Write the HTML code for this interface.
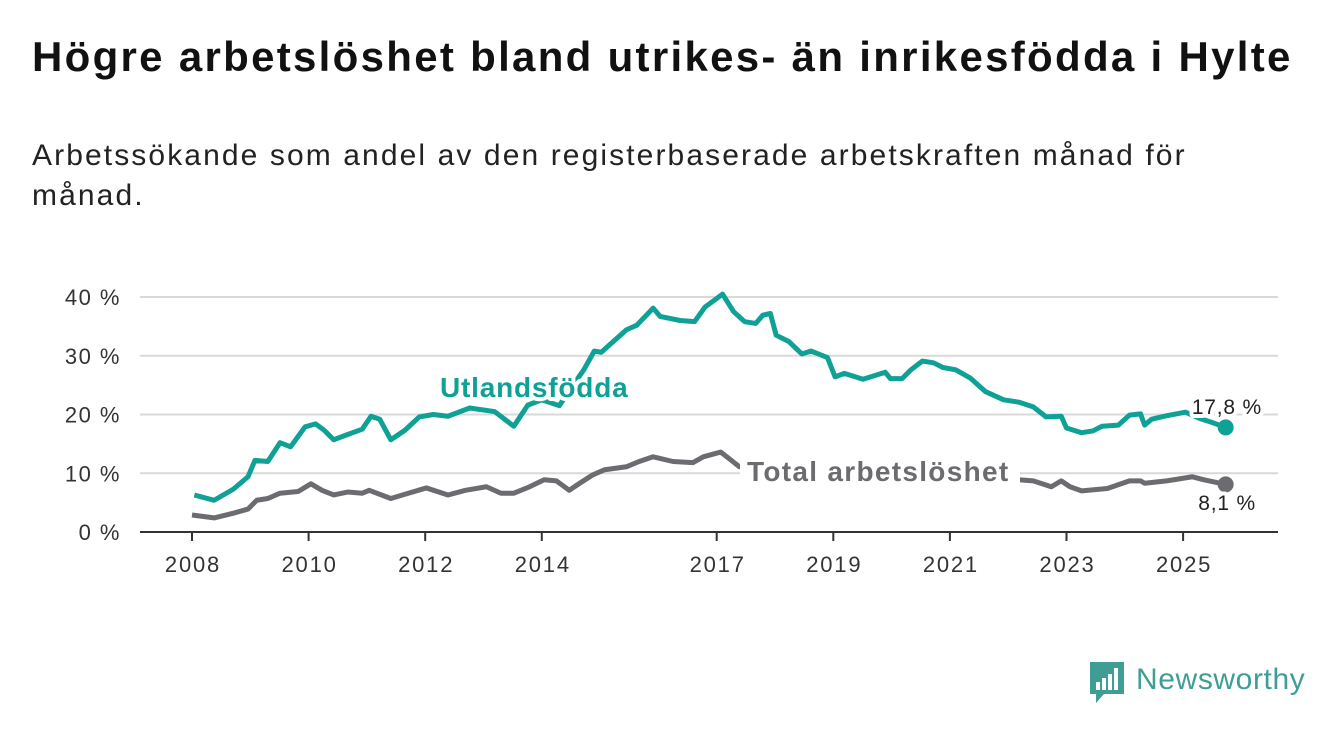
<!DOCTYPE html>
<html><head><meta charset="utf-8"><style>
body{margin:0;background:#fff;width:1340px;height:734px;overflow:hidden;font-family:"Liberation Sans",sans-serif}
#title{position:absolute;left:32px;top:33px;font-size:42px;font-weight:bold;color:#111;margin:0;letter-spacing:2.3px;white-space:nowrap}
#sub{position:absolute;left:32px;top:136px;font-size:30px;line-height:40px;color:#222;width:1250px;letter-spacing:2.1px}
svg{position:absolute;left:0;top:0}
</style></head><body>
<h1 id="title">Högre arbetslöshet bland utrikes- än inrikesfödda i Hylte</h1>
<div id="sub">Arbetssökande som andel av den registerbaserade arbetskraften månad för<br>månad.</div>
<svg id="chart" width="1340" height="734"></svg>
<script>
const foreignDates=[2008.04,2008.38,2008.71,2008.96,2009.08,2009.3,2009.51,2009.69,2009.94,2010.12,2010.27,2010.43,2010.67,2010.92,2011.07,2011.22,2011.41,2011.65,2011.9,2012.14,2012.39,2012.76,2013.19,2013.52,2013.76,2014.0,2014.3,2014.5,2014.72,2014.9,2015.02,2015.45,2015.63,2015.91,2016.03,2016.37,2016.62,2016.8,2016.98,2017.1,2017.29,2017.48,2017.67,2017.79,2017.92,2018.02,2018.24,2018.46,2018.62,2018.9,2019.03,2019.19,2019.51,2019.7,2019.89,2019.98,2020.18,2020.33,2020.53,2020.72,2020.88,2021.1,2021.35,2021.61,2021.92,2022.18,2022.43,2022.65,2022.91,2023.0,2023.26,2023.45,2023.61,2023.89,2024.08,2024.27,2024.34,2024.46,2024.72,2025.04,2025.29,2025.48,2025.73];
const foreignValues=[6.3,5.4,7.3,9.4,12.2,12.0,15.2,14.5,17.9,18.4,17.3,15.7,16.6,17.5,19.7,19.2,15.7,17.3,19.6,20.0,19.7,21.1,20.5,18.0,21.6,22.5,21.5,24.5,27.6,30.8,30.6,34.4,35.2,38.1,36.7,36.0,35.8,38.3,39.6,40.5,37.5,35.8,35.5,36.9,37.2,33.5,32.4,30.3,30.8,29.7,26.4,27.0,26.0,26.6,27.2,26.1,26.1,27.6,29.1,28.8,28.0,27.6,26.2,23.9,22.5,22.1,21.3,19.6,19.7,17.7,16.9,17.2,18.0,18.2,19.9,20.1,18.2,19.2,19.8,20.4,19.3,18.7,17.8];
const totalDates=[2008.0,2008.38,2008.71,2008.96,2009.11,2009.3,2009.51,2009.82,2010.04,2010.23,2010.43,2010.67,2010.92,2011.04,2011.41,2011.71,2012.02,2012.39,2012.69,2013.05,2013.3,2013.52,2013.79,2014.04,2014.25,2014.47,2014.65,2014.87,2015.08,2015.45,2015.67,2015.91,2016.25,2016.59,2016.77,2017.07,2017.25,2017.39,2018.0,2019.0,2020.0,2021.0,2022.18,2022.43,2022.74,2022.91,2023.06,2023.26,2023.7,2024.08,2024.27,2024.34,2024.72,2025.16,2025.35,2025.73];
const totalValues=[2.9,2.4,3.2,3.9,5.4,5.7,6.6,6.9,8.2,7.1,6.3,6.8,6.6,7.1,5.7,6.6,7.5,6.3,7.1,7.7,6.6,6.6,7.7,8.9,8.7,7.1,8.3,9.7,10.6,11.1,12.0,12.8,12.0,11.8,12.8,13.6,12.2,11.1,10.5,9.5,10.0,9.5,8.9,8.7,7.7,8.7,7.7,7.0,7.4,8.7,8.7,8.3,8.7,9.4,8.9,8.1];
const yTicks=[0,10,20,30,40];
const yTickLabels=["0 %","10 %","20 %","30 %","40 %"];
const xTicks=[2008,2010,2012,2014,2017,2019,2021,2023,2025];
const xTickLabels=["2008","2010","2012","2014","2017","2019","2021","2023","2025"];
const foreignLast="17,8 %", totalLast="8,1 %";

const svg=document.getElementById('chart');const NS="http://www.w3.org/2000/svg";
const X=t=>192+(t-2008)*58.3;
const Y=v=>532-v*5.875;
function mk(tag,attrs,parent){const e=document.createElementNS(NS,tag);for(const k in attrs)e.setAttribute(k,attrs[k]);(parent||svg).appendChild(e);return e;}
yTicks.forEach((v,i)=>{
  if(v>0){const g=mk('line',{x1:140,x2:1278,y1:Y(v),y2:Y(v),stroke:'#d9d9d9','stroke-width':2});
  
  }
  const t=mk('text',{x:121,y:Y(v)+8,'text-anchor':'end','font-size':22,fill:'#333','letter-spacing':1.5});t.textContent=yTickLabels[i];
  
  
});
const ax=mk('line',{x1:140,x2:1278,y1:532,y2:532,stroke:'#333','stroke-width':2});


xTicks.forEach((v,i)=>{
  const l=mk('line',{x1:X(v),x2:X(v),y1:532,y2:541,stroke:'#333','stroke-width':2});
  
  
  const t=mk('text',{x:X(v)+1,y:572,'text-anchor':'middle','font-size':22,fill:'#333','letter-spacing':1.8});t.textContent=xTickLabels[i];
  
  
});
function line(d,v,col,name){
  const p=mk('polyline',{points:d.map((t,i)=>X(t)+','+Y(v[i])).join(' '),fill:'none',stroke:col,'stroke-width':5,'stroke-linejoin':'round'});
  
  
  const c=mk('circle',{cx:X(d[d.length-1]),cy:Y(v[v.length-1]),r:8,fill:col});
  
  
}
line(totalDates,totalValues,'#6c6b70','total-line');
line(foreignDates,foreignValues,'#0fa195','foreign-born-line');
function label(txt,x,y,size,col,w,name,anchor,ls){
  const t=mk('text',{x:x,y:y,'font-size':size,'font-weight':w,fill:col,stroke:'#fff','stroke-width':8,'paint-order':'stroke','stroke-linejoin':'round','text-anchor':anchor||'start','letter-spacing':ls||0});
  t.textContent=txt;
  
  
}
label('Utlandsfödda',440,397,28,'#0fa195','bold','foreign-born-label','start',0.8);
const bg=mk('rect',{x:740,y:450,width:280,height:38,fill:'#fff'});


label('Total arbetslöshet',747,481,28,'#6c6b70','bold','total-label','start',1.3);
label(foreignLast,1262,414,21,'#222','normal','foreign-born-last-value','end',0.8);
label(totalLast,1256,510,21,'#222','normal','total-last-value','end',0.8);
// logo
const g=mk('g',{});


mk('path',{d:'M1090 662h34v32h-20l-8 9v-9h-6z',fill:'#3e9e96'},g);
[[1096,682,4,8],[1102,678,4,12],[1108,674,4,16],[1114,668,4,22]].forEach(r=>mk('rect',{x:r[0],y:r[1],width:r[2],height:r[3],fill:'#fff'},g));
const lt=mk('text',{x:1136,y:689,'font-size':30,fill:'#3e9e96','letter-spacing':0.6},g);lt.textContent='Newsworthy';
</script>
</body></html>
